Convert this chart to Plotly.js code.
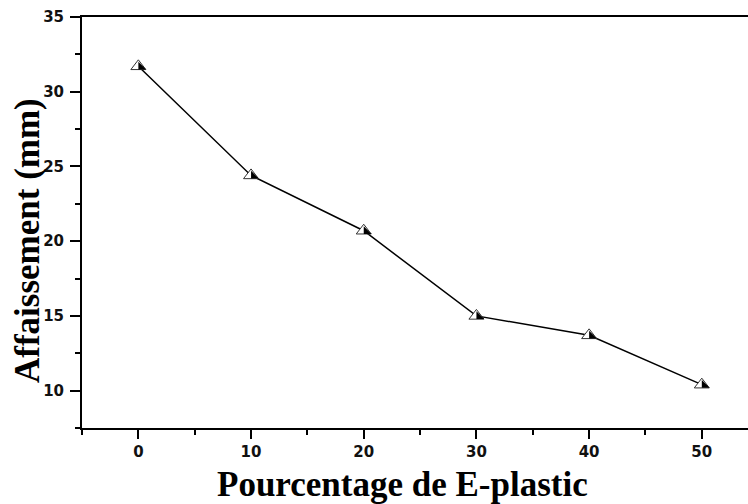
<!DOCTYPE html>
<html>
<head>
<meta charset="utf-8">
<script src="https://cdn.plot.ly/plotly-3.0.1.min.js"></script>
<style>html,body{margin:0;padding:0;background:#fff;}#chart{width:748px;height:504px;}</style>
</head>
<body>
<div id="chart"></div>
<script>
// Data
const pourcentage = [0, 10, 20, 30, 40, 50];
const affaissement = [31.7, 24.4, 20.7, 15.0, 13.7, 10.4];
const xTickVals = [0, 10, 20, 30, 40, 50];
const yTickVals = [10, 15, 20, 25, 30, 35];

const xRange = [-5, 54.1];
const yRange = [7.5, 35];
const W = 748, H = 504;
const margin = {l: 82, r: 0, t: 17, b: 76};
const pxPerX = (W - margin.l - margin.r) / (xRange[1] - xRange[0]);
const pxPerY = (H - margin.t - margin.b) / (yRange[1] - yRange[0]);
// offset (in px) of the black half-marker relative to point centre
const halfDx = 2.6 / pxPerX;
const halfDy = -0.6 / pxPerY;

const traces = [
  {
    x: pourcentage, y: affaissement, type: 'scatter', mode: 'lines',
    line: {color: '#000', width: 1.5}, hoverinfo: 'skip', showlegend: false
  },
  {
    x: pourcentage, y: affaissement, type: 'scatter', mode: 'markers',
    marker: {symbol: 'triangle-up', size: 13, color: '#fff', line: {color: '#333', width: 1}},
    showlegend: false
  },
  {
    x: pourcentage.map(v => v + halfDx), y: affaissement.map(v => v + halfDy),
    type: 'scatter', mode: 'markers',
    marker: {symbol: 'triangle-sw', size: 8.6, color: '#000', line: {width: 0}},
    hoverinfo: 'skip', showlegend: false
  }
];

const tickFont = {family: 'DejaVu Sans, Arial, sans-serif', size: 15, color: '#111', weight: 'bold'};
const titleFont = {family: 'Liberation Serif, Times New Roman, serif', size: 35, color: '#000', weight: 'bold'};

const layout = {
  width: W, height: H, margin: margin,
  paper_bgcolor: '#fff', plot_bgcolor: '#fff',
  xaxis: {
    range: xRange, showgrid: false, zeroline: false,
    showline: true, linecolor: '#000', linewidth: 2, mirror: true,
    ticks: 'outside', ticklen: 9, tickwidth: 2, tickcolor: '#000',
    tickvals: xTickVals, ticktext: xTickVals.map(String), tickfont: tickFont,
    minor: {dtick: 5, tick0: 5, ticks: 'outside', ticklen: 5, tickwidth: 2, tickcolor: '#000', showgrid: false}
  },
  yaxis: {
    range: yRange, showgrid: false, zeroline: false,
    showline: true, linecolor: '#000', linewidth: 2, mirror: false,
    ticks: 'outside', ticklen: 10, tickwidth: 2, tickcolor: '#000', ticklabelstandoff: 3,
    tickvals: yTickVals, ticktext: yTickVals.map(String), tickfont: tickFont,
    minor: {dtick: 2.5, tick0: 7.5, ticks: 'outside', ticklen: 5, tickwidth: 2, tickcolor: '#000', showgrid: false}
  },
  annotations: [
    {
      text: '<b>Pourcentage de E-plastic</b>', xref: 'paper', yref: 'paper',
      x: (402.5 - margin.l) / (W - margin.l), y: 0, yshift: -56,
      xanchor: 'center', yanchor: 'middle', showarrow: false, font: titleFont
    },
    {
      text: '<b>Affaissement (mm)</b>', xref: 'paper', yref: 'paper',
      x: 0, xshift: -55, y: (H - margin.b - 241) / (H - margin.t - margin.b),
      xanchor: 'center', yanchor: 'middle', textangle: -90, showarrow: false, font: titleFont
    }
  ]
};

Plotly.newPlot('chart', traces, layout, {displayModeBar: false, staticPlot: true});
</script>
</body>
</html>
